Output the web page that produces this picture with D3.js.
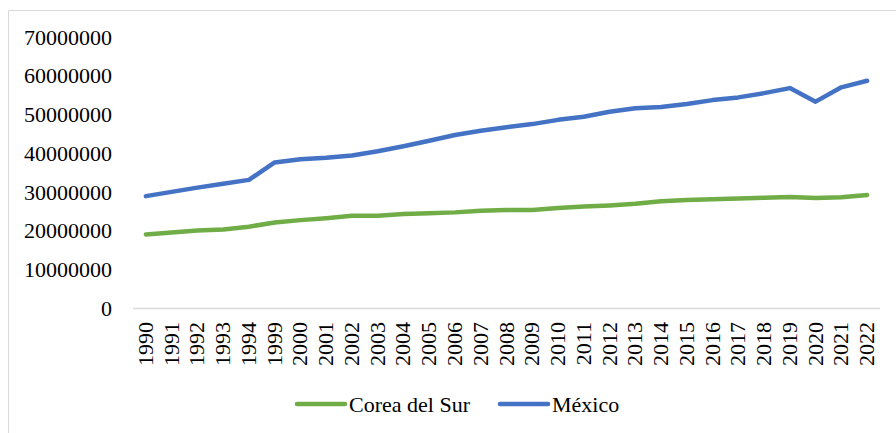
<!DOCTYPE html>
<html>
<head>
<meta charset="utf-8">
<script src="https://cdn.jsdelivr.net/npm/d3@7"></script>
<style>
  body { margin: 0; background: #fff; }
</style>
</head>
<body>
<svg id="chart"></svg>
<script>
const years = ['1990', '1991', '1992', '1993', '1994', '1999', '2000', '2001', '2002', '2003',
  '2004', '2005', '2006', '2007', '2008', '2009', '2010', '2011', '2012', '2013', '2014',
  '2015', '2016', '2017', '2018', '2019', '2020', '2021', '2022']

const corea = [19000000, 19500000, 20000000, 20300000, 21000000, 22100000, 22700000, 23200000,
  23800000, 23800000, 24300000, 24500000, 24700000, 25100000, 25300000, 25300000, 25800000,
  26200000, 26500000, 26900000, 27600000, 27900000, 28100000, 28300000, 28500000, 28700000,
  28400000, 28600000, 29200000]

const mexico = [28900000, 30000000, 31100000, 32100000, 33100000, 37600000, 38400000, 38800000,
  39400000, 40500000, 41800000, 43200000, 44700000, 45800000, 46700000, 47500000, 48600000,
  49400000, 50700000, 51600000, 51900000, 52700000, 53700000, 54400000, 55500000, 56800000,
  53300000, 57000000, 58700000]

const yTicks = [0, 10000000, 20000000, 30000000, 40000000, 50000000, 60000000, 70000000]

const series = [
  { name: 'Corea del Sur', values: corea, color: '#70AD47' },
  { name: 'México', values: mexico, color: '#4472C4' }
]

const width = 896
const height = 433
const font = '"Liberation Serif", "Times New Roman", Times, serif'
const svg = d3.select('#chart').attr('width', width).attr('height', height)
  .attr('font-family', font)

// chart frame
svg.append('path')
  .attr('d', `M8.5,${height} V10.5 H${width}`)
  .attr('fill', 'none')
  .attr('stroke', '#d9d9d9')
  .attr('stroke-width', 1)

const x = d3.scaleBand().domain(years).range([133, 880])
const y = d3.scaleLinear().domain([0, 70000000]).range([308, 37])

// y labels
svg.append('g')
  .selectAll('text')
  .data(yTicks)
  .join('text')
  .attr('x', 112)
  .attr('y', d => y(d))
  .attr('dy', '0.35em')
  .attr('text-anchor', 'end')
  .attr('font-size', 22)
  .attr('fill', '#000')
  .text(d => d)

// baseline
svg.append('line')
  .attr('x1', 133).attr('x2', 880)
  .attr('y1', y(0) + 0.5).attr('y2', y(0) + 0.5)
  .attr('stroke', '#d9d9d9')
  .attr('stroke-width', 1.5)

// x labels, rotated
svg.append('g')
  .selectAll('text')
  .data(years)
  .join('text')
  .attr('transform', d => `translate(${x(d) + x.bandwidth() / 2 + 7},322) rotate(-90)`)
  .attr('text-anchor', 'end')
  .attr('font-size', 22)
  .attr('fill', '#000')
  .text(d => d)

const line = d3.line()
  .x((d, i) => x(years[i]) + x.bandwidth() / 2)
  .y(d => y(d))

svg.append('g')
  .selectAll('path')
  .data(series)
  .join('path')
  .attr('d', d => line(d.values))
  .attr('fill', 'none')
  .attr('stroke', d => d.color)
  .attr('stroke-width', 4.5)
  .attr('stroke-linejoin', 'round')
  .attr('stroke-linecap', 'round')

// legend
const legendX = [297, 500]
const legend = svg.append('g')
  .selectAll('g')
  .data(series)
  .join('g')
  .attr('transform', (d, i) => `translate(${legendX[i]},404)`)

legend.append('line')
  .attr('x1', 0).attr('x2', 48)
  .attr('stroke', d => d.color)
  .attr('stroke-width', 4.5)
  .attr('stroke-linecap', 'round')

legend.append('text')
  .attr('x', 52)
  .attr('dy', '0.35em')
  .attr('font-size', 22)
  .attr('fill', '#000')
  .text(d => d.name)
</script>
</body>
</html>
